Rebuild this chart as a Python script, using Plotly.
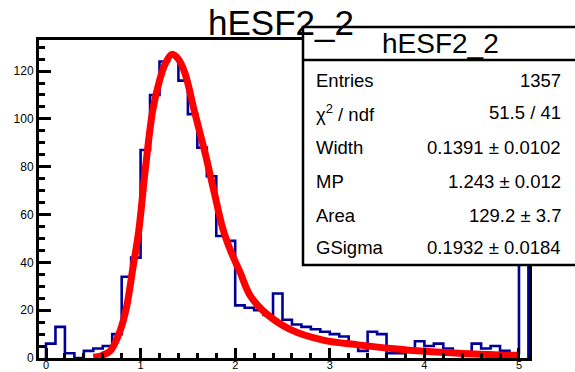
import plotly.graph_objects as go

# ---------------- data ----------------
hist_name = "hESF2_2"
bin_low = 0.0
bin_width = 0.1
counts = [6, 13, 2, 0, 3, 4, 5, 10, 34, 42,
          87, 110, 124, 126, 116, 102, 88, 76, 51, 49,
          22, 21, 20, 18, 27, 16, 14, 13, 12, 11,
          10, 9, 6, 3, 11, 10, 2, 2, 3, 7,
          5, 6, 4, 2, 2, 6, 4, 5, 3, 2,
          45]

fit_x = [0.50, 0.55, 0.60, 0.68, 0.78, 0.85, 0.92, 0.98, 1.05, 1.13, 1.20, 1.26,
         1.33, 1.40, 1.47, 1.57, 1.68, 1.78, 1.87, 1.96, 2.05, 2.16, 2.33, 2.58,
         2.93, 3.30, 3.65, 4.00, 4.40, 4.80, 5.00]
fit_y = [0.3, 0.6, 1.2, 3.0, 11.0, 21.0, 38.0, 53.0, 79.0, 104.0, 116.0, 123.0,
         127.0, 125.0, 119.0, 103.0, 86.0, 69.0, 54.0, 44.0, 36.0, 26.0, 18.5, 12.0,
         7.5, 5.5, 4.0, 2.8, 1.9, 1.3, 1.1]

x_ticks = [0, 1, 2, 3, 4, 5]
y_ticks = [0, 20, 40, 60, 80, 100, 120]

stat_labels = ["Entries", "χ<sup>2</sup> / ndf", "Width", "MP", "Area", "GSigma"]
stat_values = ["1357", "51.5 / 41", "0.1391 ± 0.0102", "1.243 ± 0.012",
               "129.2 ± 3.7", "0.1932 ± 0.0184"]

# ---------------- layout geometry ----------------
W, H = 575, 372
ML, MR, MT, MB = 39, 46, 40, 14
PW, PH = W - ML - MR, H - MT - MB


def px2x(px):
    return (px - ML) / PW


def py2y(py):
    return (H - MB - py) / PH


FONT = "Liberation Sans, Arial, Helvetica, sans-serif"

edges = [bin_low + i * bin_width for i in range(len(counts) + 1)]
step_x = [edges[0]] + edges[:len(counts)] + [edges[len(counts)]]
step_y = [0] + counts + [0]

fig = go.Figure()
fig.add_trace(go.Scatter(x=step_x, y=step_y, mode="lines", line_shape="hv",
                         line=dict(color="#000099", width=2.6),
                         hoverinfo="skip", showlegend=False))
fig.add_trace(go.Scatter(x=fit_x, y=fit_y, mode="lines", line_shape="spline",
                         line=dict(color="#ff0000", width=7, smoothing=1.0),
                         hoverinfo="skip", showlegend=False))

axis_common = dict(showline=True, linecolor="black", linewidth=3, mirror=True,
                   ticks="inside", tickcolor="black", tickwidth=2.5,
                   showgrid=False, zeroline=False, automargin=False)

fig.update_xaxes(range=[-0.074, 5.106], tickvals=x_ticks,
                 ticktext=[str(v) for v in x_ticks], ticklen=10,
                 ticklabelstandoff=-5,
                 tickfont=dict(family=FONT, size=11, color="black"),
                 minor=dict(ticks="inside", ticklen=5, dtick=0.2, tick0=0,
                            tickcolor="black", tickwidth=2.5, showgrid=False),
                 **axis_common)
fig.update_yaxes(range=[0, 133], tickvals=y_ticks,
                 ticktext=[str(v) for v in y_ticks], ticklen=12,
                 tickfont=dict(family=FONT, size=12, color="black"),
                 minor=dict(ticks="inside", ticklen=6, dtick=5, tick0=0,
                            tickcolor="black", tickwidth=2.5, showgrid=False),
                 **axis_common)

shapes = [
    dict(type="rect", xref="paper", yref="paper",
         x0=px2x(303), x1=px2x(585), y0=py2y(265), y1=py2y(27),
         fillcolor="white", line=dict(color="black", width=2.5), layer="above"),
    dict(type="line", xref="paper", yref="paper",
         x0=px2x(303), x1=px2x(585), y0=py2y(60), y1=py2y(60),
         line=dict(color="black", width=2.5), layer="above"),
]

annotations = [
    dict(text=hist_name, xref="paper", yref="paper", x=px2x(281), y=py2y(23),
         xanchor="center", yanchor="middle", showarrow=False,
         font=dict(family=FONT, size=35, color="black")),
    dict(text=hist_name, xref="paper", yref="paper", x=px2x(440), y=py2y(43),
         xanchor="center", yanchor="middle", showarrow=False,
         font=dict(family=FONT, size=28, color="black")),
]
row_y = [80, 113, 147, 181, 215, 247]
for lab, val, ry in zip(stat_labels, stat_values, row_y):
    annotations.append(dict(text=lab, xref="paper", yref="paper", x=px2x(314),
                            y=py2y(ry), xanchor="left", yanchor="middle",
                            showarrow=False,
                            font=dict(family=FONT, size=18.5, color="black")))
    annotations.append(dict(text=val, xref="paper", yref="paper", x=px2x(563),
                            y=py2y(ry), xanchor="right", yanchor="middle",
                            showarrow=False,
                            font=dict(family=FONT, size=18.5, color="black")))

fig.update_layout(width=W, height=H,
                  margin=dict(l=ML, r=MR, t=MT, b=MB, pad=0, autoexpand=False),
                  paper_bgcolor="white", plot_bgcolor="white",
                  shapes=shapes, annotations=annotations,
                  showlegend=False)

fig.write_html("out.html", config={"displayModeBar": False},
               post_script="document.body.style.margin='0';document.body.style.overflow='hidden';")
